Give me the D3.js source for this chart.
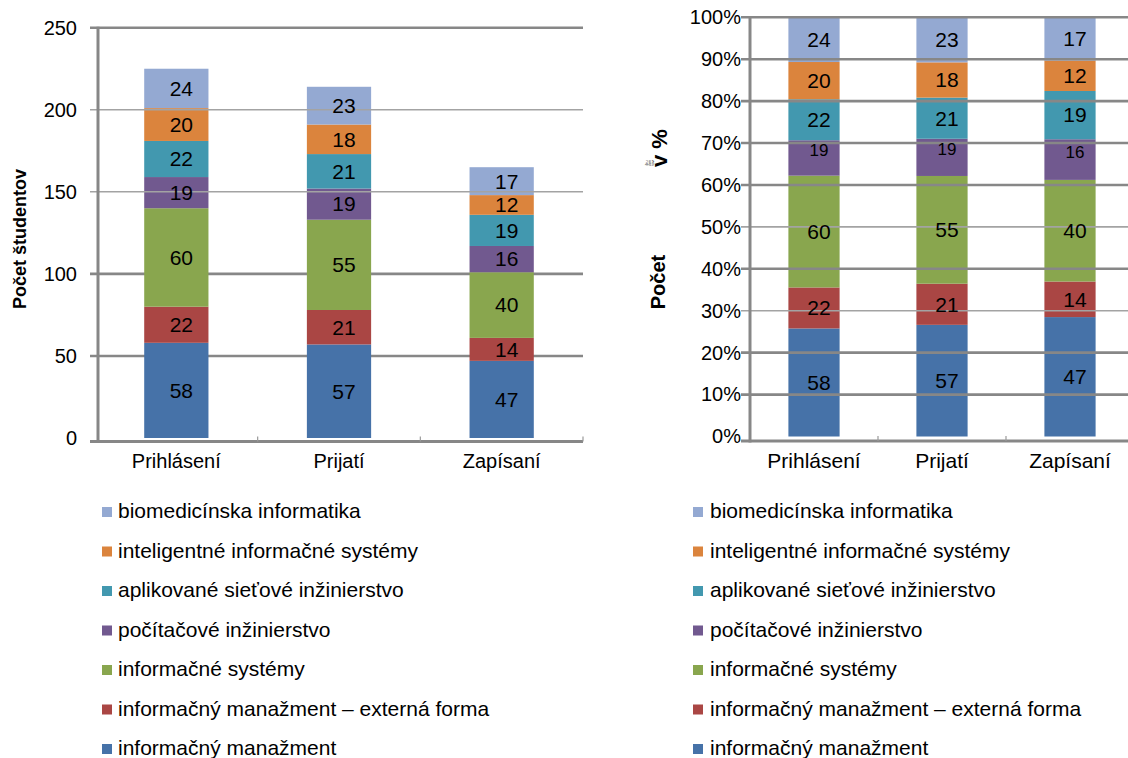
<!DOCTYPE html>
<html><head><meta charset="utf-8">
<script src="https://cdn.jsdelivr.net/npm/d3@7"></script>
<style>
body{margin:0;background:#fff;}
svg{display:block;font-family:"Liberation Sans",Arial,sans-serif;}
</style>
</head><body>
<svg id="c" width="1128" height="758"></svg>
<script>
// ---------- data ----------
const categories = ["Prihlásení", "Prijatí", "Zapísaní"];
const seriesNames = [
  "informačný manažment",
  "informačný manažment – externá forma",
  "informačné systémy",
  "počítačové inžinierstvo",
  "aplikované sieťové inžinierstvo",
  "inteligentné informačné systémy",
  "biomedicínska informatika"
];
const infManazment     = [58, 57, 47];
const infManazmentExt  = [22, 21, 14];
const infSystemy       = [60, 55, 40];
const pocInzinierstvo  = [19, 19, 16];
const aplSietove       = [22, 21, 19];
const inteligentne     = [20, 18, 12];
const biomedicinska    = [24, 23, 17];
const seriesValues = [infManazment, infManazmentExt, infSystemy, pocInzinierstvo, aplSietove, inteligentne, biomedicinska];
const leftTicks  = [0, 50, 100, 150, 200, 250];
const rightTicks = [0, 0.1, 0.2, 0.3, 0.4, 0.5, 0.6, 0.7, 0.8, 0.9, 1];
const leftTitle = "Počet študentov";

// ---------- styles ----------
const colors = ["#4672A8", "#AA4644", "#89A64E", "#71598F", "#4298AF", "#DB843D", "#94A9D2"];
const gridCol = "#878787", thinCol = "#a3a3a3";
const leftThin = [150, 200];      // light grid lines drawn over bars
const rightThin = [0.3, 0.5];

const svg = d3.select("#c");
const keys = seriesNames;
const rows = categories.map((c, i) => {
  const o = {cat: c};
  seriesValues.forEach((v, k) => o[keys[k]] = v[i]);
  return o;
});
const stackAbs = d3.stack().keys(keys)(rows);
const stackPct = d3.stack().keys(keys).offset(d3.stackOffsetExpand)(rows);
const color = d3.scaleOrdinal().domain(keys).range(colors);

function drawChart(cfg) {
  const g = svg.append("g");
  const {x, y, ticks, thin, x0, x1, axisX, axisY, stack, barFrac, labelSize, tickFmt, tickFont, catFont, gridFront} = cfg;

  const gridBack = g.append("g");
  const bars = g.append("g");
  const gridFrontG = g.append("g");
  const labels = g.append("g");

  ticks.filter(t => t !== 0).forEach(t => {
    const isThin = thin.includes(t);
    const target = (gridFront || isThin) ? gridFrontG : gridBack;
    target.append("line")
      .attr("x1", x0).attr("x2", x1)
      .attr("y1", y(t)).attr("y2", y(t))
      .attr("stroke", isThin ? thinCol : gridCol)
      .attr("stroke-width", isThin ? 1.6 : 2.6);
  });

  const bw = x.bandwidth() * barFrac;
  stack.forEach(layer => {
    bars.selectAll(null).data(layer).enter().append("rect")
      .attr("x", d => x(d.data.cat) + (x.bandwidth() - bw) / 2)
      .attr("y", d => y(d[1]))
      .attr("width", bw)
      .attr("height", d => y(d[0]) - y(d[1]))
      .attr("fill", color(layer.key));
    labels.selectAll(null).data(layer).enter().append("text")
      .attr("x", d => x(d.data.cat) + x.bandwidth() / 2 + 5)
      .attr("y", d => (y(d[0]) + y(d[1])) / 2 + (cfg.labelShift ? cfg.labelShift(layer.key) : 0))
      .attr("dy", "0.35em")
      .attr("text-anchor", "middle")
      .attr("font-size", cfg.labelFont ? cfg.labelFont(layer.key) : labelSize)
      .attr("fill", "#000")
      .text(d => d.data[layer.key]);
  });

  g.append("line").attr("x1", axisX).attr("x2", axisX)
    .attr("y1", y(ticks[ticks.length - 1]) - 1).attr("y2", axisY + 1.5)
    .attr("stroke", gridCol).attr("stroke-width", 3);
  g.append("line").attr("x1", x0).attr("x2", x1)
    .attr("y1", axisY).attr("y2", axisY)
    .attr("stroke", gridCol).attr("stroke-width", 3);
  categories.forEach(c => {
    const bx = x(c) + x.bandwidth();
    g.append("line").attr("x1", bx).attr("x2", bx)
      .attr("y1", axisY - 5).attr("y2", axisY)
      .attr("stroke", "#9a9a9a").attr("stroke-width", 1.2);
  });

  const ya = g.append("g").attr("transform", `translate(${axisX},0)`)
    .call(d3.axisLeft(y).tickValues(ticks).tickSize(0).tickPadding(cfg.tickPad).tickFormat(tickFmt));
  ya.select(".domain").remove();
  ya.selectAll("text").attr("font-size", tickFont).attr("fill", "#000")
    .attr("font-family", '"Liberation Sans",Arial,sans-serif');

  const xa = g.append("g").attr("transform", `translate(0,${axisY})`)
    .call(d3.axisBottom(x).tickSize(0).tickPadding(12));
  xa.select(".domain").remove();
  xa.selectAll("text").attr("font-size", catFont).attr("fill", "#000")
    .attr("font-family", '"Liberation Sans",Arial,sans-serif');
}

// ---------- left chart ----------
const xL = d3.scaleBand().domain(categories).range([95, 583]);
const yL = d3.scaleLinear().domain([0, 250]).range([438, 27.7]);
drawChart({
  x: xL, y: yL, ticks: leftTicks, thin: leftThin, x0: 90, x1: 583, axisX: 98, axisY: 441.5,
  stack: stackAbs, barFrac: 0.395, labelSize: 21, tickFmt: d3.format("d"), tickFont: 20, catFont: 20,
  tickPad: 21, gridFront: false
});
svg.append("text")
  .attr("transform", "translate(26,239) rotate(-90)")
  .attr("text-anchor", "middle").attr("font-weight", "bold").attr("font-size", 18)
  .text(leftTitle);

// ---------- right chart ----------
const xR = d3.scaleBand().domain(categories).range([750, 1134]);
const yR = d3.scaleLinear().domain([0, 1]).range([436.5, 17.3]);
drawChart({
  x: xR, y: yR, ticks: rightTicks, thin: rightThin, x0: 741, x1: 1128, axisX: 750, axisY: 441,
  stack: stackPct, barFrac: 0.4, labelSize: 21, tickFmt: d3.format(".0%"), tickFont: 20, catFont: 21,
  tickPad: 9, gridFront: true,
  labelShift: k => k === "počítačové inžinierstvo" ? -8 : 0,
  labelFont: k => k === "počítačové inžinierstvo" ? 17 : 21
});
svg.append("text")
  .attr("transform", "translate(665,282) rotate(-90)")
  .attr("text-anchor", "middle").attr("font-weight", "bold").attr("font-size", 20)
  .text("Počet");
svg.append("text")
  .attr("transform", "translate(667,167) rotate(-90)")
  .attr("text-anchor", "start").attr("font-weight", "bold").attr("font-size", 22)
  .text("v %");
["štu", "den", "tov"].forEach((t, i) => {
  svg.append("text")
    .attr("transform", `translate(${647.5 + i * 3},${163}) rotate(-90)`)
    .attr("text-anchor", "middle").attr("font-size", 3.8).attr("fill", "#000")
    .text(t);
});

// ---------- legends ----------
function legend(sqX, txtX) {
  const items = keys.slice().reverse();
  const lg = svg.append("g");
  items.forEach((k, i) => {
    const base = 518 + i * 39.5;
    lg.append("rect").attr("x", sqX).attr("y", base - 11).attr("width", 10).attr("height", 10).attr("fill", color(k));
    lg.append("text").attr("x", txtX).attr("y", base).attr("font-size", 21).attr("fill", "#000").text(k);
  });
}
legend(102, 118);
legend(693, 710);
</script>
</body></html>
